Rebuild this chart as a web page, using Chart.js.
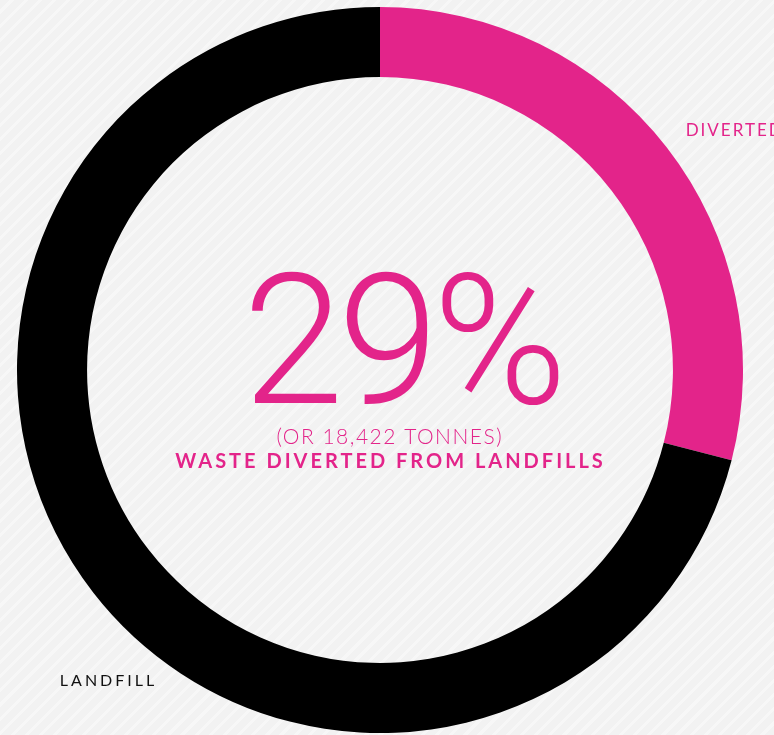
<!DOCTYPE html>
<html>
<head>
<meta charset="utf-8">
<script src="https://cdn.jsdelivr.net/npm/chart.js@4.4.1/dist/chart.umd.min.js"></script>
<style>
  html, body {
    margin: 0;
    padding: 0;
    width: 774px;
    height: 735px;
    overflow: hidden;
    background: repeating-linear-gradient(135deg, #f2f2f2 0px, #f2f2f2 7px, #f7f7f7 7px, #f7f7f7 10px);
  }
  #wrap { position: relative; width: 774px; height: 735px; }
</style>
</head>
<body>
<div id="wrap"><canvas id="wasteChart" width="774" height="735"></canvas></div>
<script>
// waste split
const categories = ['DIVERTED', 'LANDFILL'];
const shares = [29, 71];
const colours = ['#e3248a', '#000000'];

// centre text
const bigNumber = '29%';
const subLine = '(OR 18,422 TONNES)';
const titleLine = 'WASTE DIVERTED FROM LANDFILLS';

function drawSpaced(ctx, text, x, y, spacing, align) {
    ctx.letterSpacing = spacing + 'px';
    let w = ctx.measureText(text).width - spacing;
    let startX = x;
    if (align === 'center') startX = x - w / 2;
    ctx.textAlign = 'left';
    ctx.fillText(text, startX, y);
    ctx.letterSpacing = '0px';
}

// draws centre text and side labels
const overlayPlugin = {
    id: 'overlay',
    afterDraw(chart) {
        const ctx = chart.ctx;
        const arc = chart.getDatasetMeta(0).data[0];
        const cx = arc.x, cy = arc.y, r = arc.outerRadius;
        ctx.save();
        ctx.textBaseline = 'alphabetic';

        ctx.fillStyle = colours[0];
        ctx.font = '300 182px "Roboto", "Noto Sans", sans-serif';
        drawSpaced(ctx, bigNumber, cx + 25, cy + 33, -6, 'center');

        ctx.font = '300 21px "Lato", sans-serif';
        drawSpaced(ctx, subLine, cx + 9, cy + 74, 1.5, 'center');

        ctx.font = 'bold 20px "Lato", sans-serif';
        drawSpaced(ctx, titleLine, cx + 9, cy + 98, 3, 'center');

        ctx.font = '17px "Lato", sans-serif';
        ctx.fillStyle = colours[0];
        drawSpaced(ctx, categories[0], cx + r * 0.842, cy - r * 0.645, 2, 'left');

        ctx.font = '16px "Lato", sans-serif';
        ctx.fillStyle = '#111111';
        drawSpaced(ctx, categories[1], cx - r * 0.882, cy + r * 0.870, 3, 'left');
        ctx.restore();
    }
};

new Chart(document.getElementById('wasteChart'), {
    type: 'doughnut',
    data: {
        labels: categories,
        datasets: [{
            data: shares,
            backgroundColor: colours,
            borderWidth: 0,
            hoverOffset: 0
        }]
    },
    options: {
        responsive: false,
        animation: false,
        cutout: '80.7%',
        layout: { padding: { left: 17, right: 31, top: 7, bottom: 2 } },
        plugins: {
            legend: { display: false },
            tooltip: { enabled: false }
        }
    },
    plugins: [overlayPlugin]
});
</script>
</body>
</html>
